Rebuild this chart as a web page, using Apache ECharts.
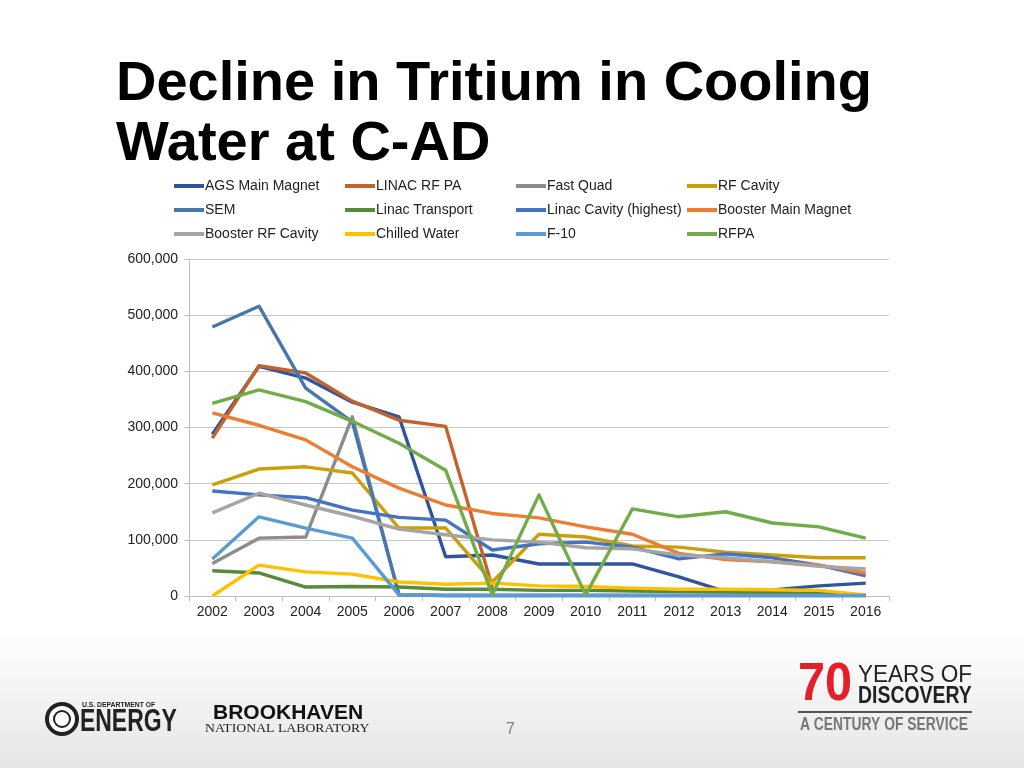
<!DOCTYPE html>
<html>
<head>
<meta charset="utf-8">
<script src="https://cdn.jsdelivr.net/npm/echarts@6/dist/echarts.min.js"></script>
<style>
html,body{margin:0;padding:0;background:#fff;}
#chart{width:1024px;height:768px;}
</style>
</head>
<body>
<div id="chart"></div>
<script>
const years = ['2002','2003','2004','2005','2006','2007','2008','2009','2010','2011','2012','2013','2014','2015','2016'];
const yTicks = [0, 100000, 200000, 300000, 400000, 500000, 600000];

const agsMainMagnet      = [288000, 409000, 388000, 345000, 319000, 70000, 73000, 57000, 57000, 57000, 34000, 8000, 11000, 18000, 23000];
const linacRfPa          = [281000, 410000, 397000, 347000, 313000, 302000, 15000, null, null, null, null, null, null, null, null];
const fastQuad           = [58000, 103000, 105000, 319000, 2000, 1000, 1000, 1000, 1000, 1000, 1000, 1000, 1000, 1000, 1000];
const rfCavity           = [198000, 226000, 230000, 219000, 121000, 121000, 25000, 110000, 105000, 89000, 87000, 78000, 73000, 68000, 68000];
const sem                = [479000, 516000, 370000, 310000, 2000, 1000, 1000, 1000, 1000, 1000, 1000, 1000, 1000, 1000, 1000];
const linacTransport     = [45000, 41000, 16000, 17000, 16000, 12000, 12000, 10000, 10000, 9000, 8000, 7000, 6000, 5000, 2000];
const linacCavityHighest = [187000, 180000, 175000, 153000, 140000, 135000, 82000, 93000, 96000, 87000, 66000, 75000, 68000, 55000, 36000];
const boosterMainMagnet  = [326000, 304000, 278000, 230000, 192000, 162000, 147000, 139000, 123000, 110000, 76000, 65000, 61000, 55000, 41000];
const boosterRfCavity    = [148000, 183000, 162000, 142000, 119000, 109000, 100000, 96000, 86000, 84000, 73000, 68000, 61000, 53000, 48000];
const chilledWater       = [0, 55000, 43000, 39000, 25000, 21000, 23000, 18000, 17000, 14000, 12000, 12000, 11000, 10000, 2000];
const f10                = [66000, 141000, 121000, 103000, 2000, 1000, 1000, 1000, 1000, 1000, 1000, 1000, 1000, 1000, 1000];
const rfpa               = [343000, 367000, 346000, 311000, 272000, 224000, 2000, 180000, 2000, 155000, 141000, 150000, 130000, 123000, 103000];

const seriesNames = ['AGS Main Magnet','LINAC RF PA','Fast Quad','RF Cavity','SEM','Linac Transport','Linac Cavity (highest)','Booster Main Magnet','Booster RF Cavity','Chilled Water','F-10','RFPA'];
const seriesData = [agsMainMagnet, linacRfPa, fastQuad, rfCavity, sem, linacTransport, linacCavityHighest, boosterMainMagnet, boosterRfCavity, chilledWater, f10, rfpa];
const seriesColors = ['#2F55A0','#C5622A','#8C8C8C','#CC9E08','#4677AD','#578A3A','#4472C4','#ED7D31','#A5A5A5','#FFC000','#5B9BD5','#70AD47'];

const chart = echarts.init(document.getElementById('chart'), null, {renderer:'canvas'});

const FONT = 'Liberation Sans, Arial, sans-serif';
const legendCols = [174, 345, 516, 687];
const legends = legendCols.map((x, c) => ({
  orient: 'vertical',
  left: x,
  top: 179,
  itemWidth: 30,
  itemHeight: 4,
  itemGap: 10,
  icon: 'rect',
  padding: 0,
  selectedMode: false,
  data: [seriesNames[c], seriesNames[c + 4], seriesNames[c + 8]],
  textStyle: {fontFamily: FONT, fontSize: 14, color: '#222', padding: [0, 0, 0, -4]}
}));

const option = {
  backgroundColor: '#fff',
  animation: false,
  title: {
    text: 'Decline in Tritium in Cooling\nWater at C-AD',
    left: 111,
    top: 50,
    textStyle: {fontFamily: FONT, fontSize: 56, fontWeight: 'bold', color: '#000', lineHeight: 60}
  },
  legend: legends,
  grid: {left: 189, top: 259, width: 700, height: 337, containLabel: false},
  xAxis: {
    type: 'category',
    data: years,
    boundaryGap: true,
    axisLine: {show: true, lineStyle: {color: '#bfbfbf', width: 1}},
    axisTick: {show: true, length: 5, lineStyle: {color: '#bfbfbf'}},
    axisLabel: {fontFamily: FONT, fontSize: 14, color: '#222', margin: 9}
  },
  yAxis: {
    type: 'value',
    min: yTicks[0],
    max: yTicks[yTicks.length - 1],
    interval: yTicks[1] - yTicks[0],
    axisLine: {show: true, lineStyle: {color: '#bfbfbf', width: 1}},
    axisTick: {show: true, length: 5, lineStyle: {color: '#bfbfbf'}},
    splitLine: {show: true, lineStyle: {color: '#c8c8c8', width: 1}},
    axisLabel: {
      fontFamily: FONT, fontSize: 14, color: '#222', margin: 11,
      formatter: v => v.toLocaleString('en-US')
    }
  },
  series: seriesNames.map((n, i) => ({
    name: n,
    type: 'line',
    data: seriesData[i],
    color: seriesColors[i],
    showSymbol: false,
    symbol: 'none',
    lineStyle: {width: 3.4, color: seriesColors[i], join: 'round'},
    connectNulls: false
  })),
  graphic: [
    {type: 'rect', z: -10, shape: {x: 0, y: 630, width: 1024, height: 138},
     style: {fill: new echarts.graphic.LinearGradient(0, 0, 0, 1, [
       {offset: 0, color: '#ffffff'}, {offset: 1, color: '#e6e6e6'}])}},
    {type: 'text', left: 506, top: 722, style: {text: '7', fontFamily: FONT, fontSize: 16, fill: '#808080'}},
    // DOE logo
    {type: 'circle', shape: {cx: 62, cy: 719, r: 15}, style: {fill: '#fff', stroke: '#222', lineWidth: 4}},
    {type: 'circle', shape: {cx: 62, cy: 719, r: 8}, style: {fill: '#fff', stroke: '#222', lineWidth: 2}},
    {type: 'text', x: 82, y: 701, scaleX: 0.85, style: {text: 'U.S. DEPARTMENT OF', fontFamily: FONT, fontSize: 8, fontWeight: 'bold', fill: '#222'}},
    {type: 'text', x: 80, y: 707, scaleX: 0.74, style: {text: 'ENERGY', fontFamily: FONT, fontSize: 31, fontWeight: 'bold', fill: '#222'}},
    // Brookhaven
    {type: 'text', x: 213, y: 703, scaleX: 1.0, style: {text: 'BROOKHAVEN', fontFamily: FONT, fontSize: 21, fontWeight: 'bold', fill: '#111'}},
    {type: 'text', x: 205, y: 722, scaleX: 1.1, style: {text: 'NATIONAL LABORATORY', fontFamily: 'Liberation Serif, serif', fontSize: 12.5, fill: '#222'}},
    // 70 years
    {type: 'text', x: 798, y: 658, scaleX: 0.9, style: {text: '70', fontFamily: FONT, fontSize: 54, fontWeight: 'bold', fill: '#E3202A'}},
    {type: 'text', x: 858, y: 664, scaleX: 0.98, style: {text: 'YEARS OF', fontFamily: FONT, fontSize: 23, fill: '#222'}},
    {type: 'text', x: 858, y: 684, scaleX: 0.81, style: {text: 'DISCOVERY', fontFamily: FONT, fontSize: 24, fontWeight: 'bold', fill: '#222'}},
    {type: 'rect', shape: {x: 798, y: 711, width: 174, height: 2}, style: {fill: '#555'}},
    {type: 'text', x: 800, y: 716, scaleX: 0.77, style: {text: 'A CENTURY OF SERVICE', fontFamily: FONT, fontSize: 18, fontWeight: 'bold', fill: '#777'}}
  ]
};
chart.setOption(option);
</script>
</body>
</html>
